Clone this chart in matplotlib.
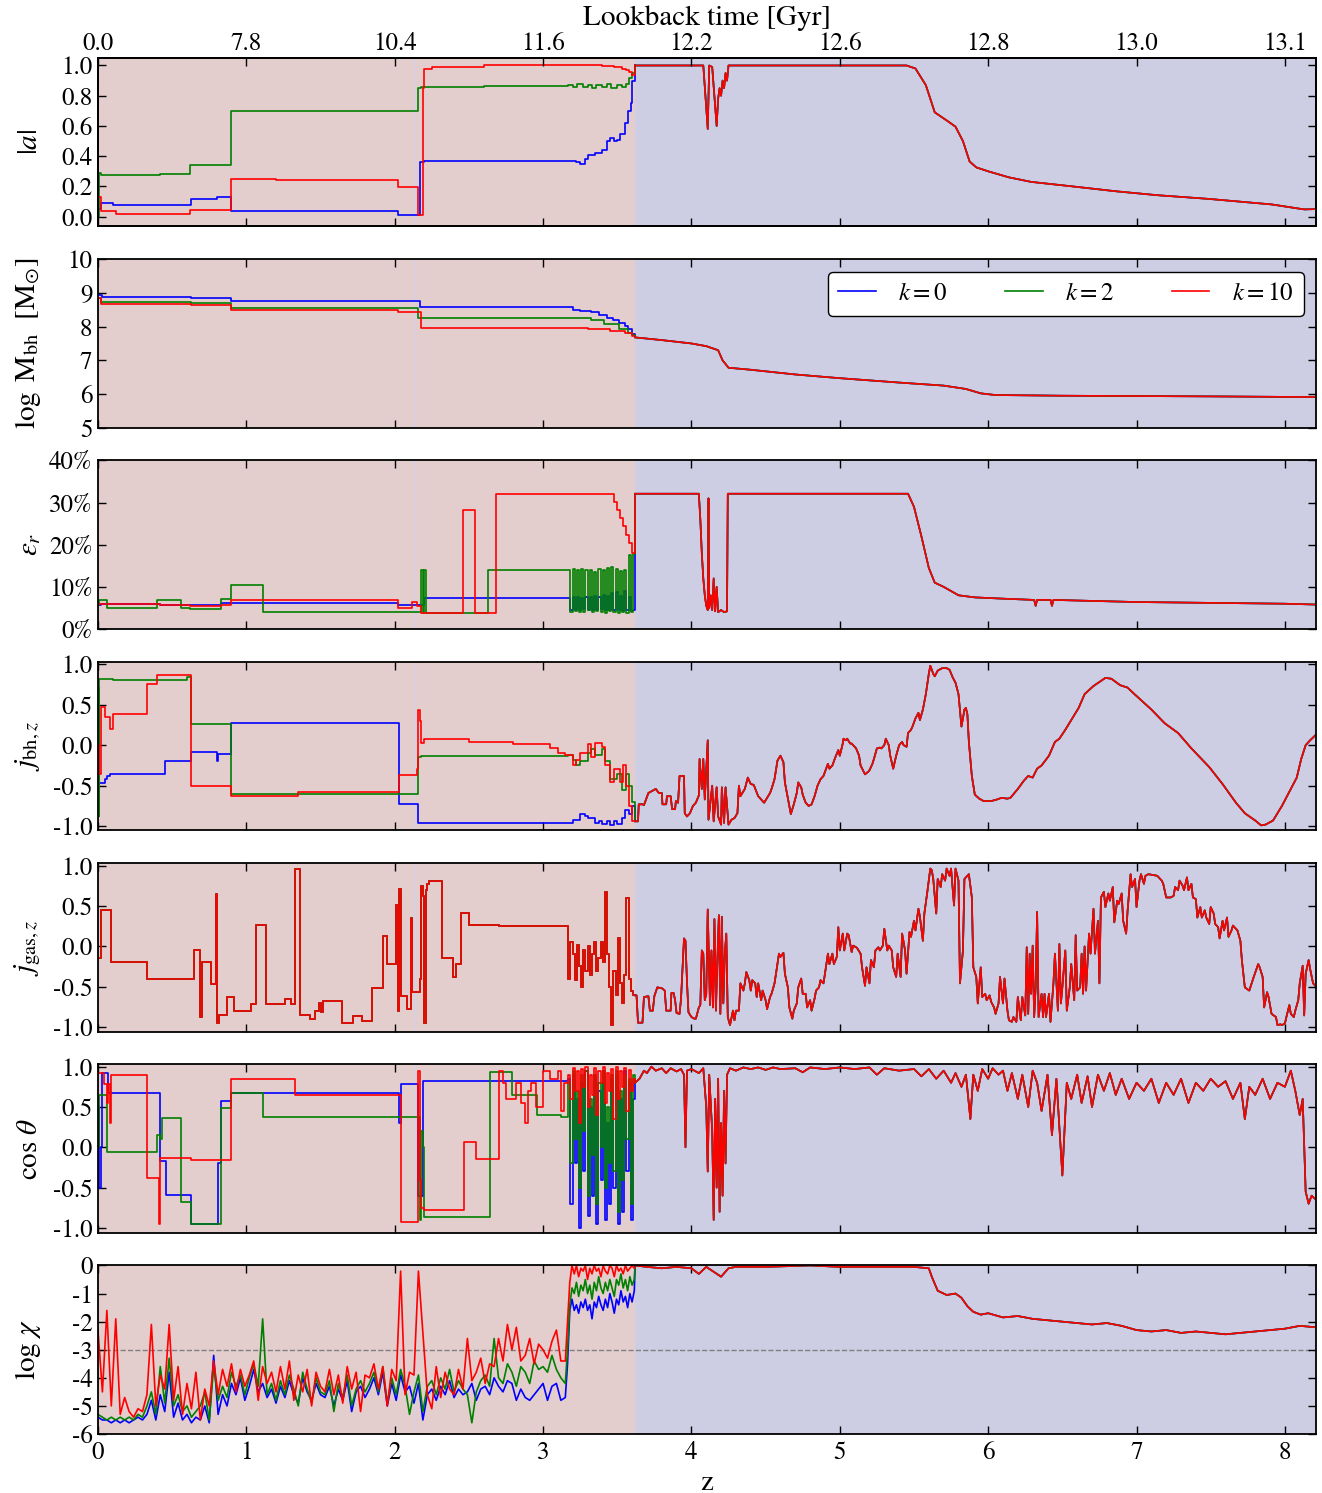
import numpy as np
import matplotlib.pyplot as plt
from matplotlib.ticker import FormatStrFormatter

plt.rcParams.update({
    'font.family': 'STIXGeneral',
    'mathtext.fontset': 'stix',
    'font.size': 18,
    'axes.unicode_minus': False,
    'axes.linewidth': 1.3,
    'xtick.direction': 'in',
    'ytick.direction': 'in',
    'xtick.top': True,
    'ytick.right': True,
    'xtick.major.size': 6,
    'ytick.major.size': 6,
    'xtick.major.width': 1.0,
    'ytick.major.width': 1.0,
    'xtick.major.pad': 5,
    'ytick.major.pad': 4,
})

# redshift where the three runs split, and the end of the axis
z_split = 3.62
z_max = 8.21
z_mark = 2.135

lookback = ['0.0', '7.8', '10.4', '11.6', '12.2', '12.6', '12.8', '13.0', '13.1']
labels = [r'$k=0$', r'$k=2$', r'$k=10$']

# ---- |a| ------------------------------------------------------------
a_blue = [(0, 0.05), (0.02, 0.09), (0.1, 0.08), (0.63, 0.12), (0.8, 0.13), (0.9, 0.035),
          (2.02, 0.01), (2.17, 0.36), (2.2, 0.37), (3.17, 0.37), (3.22, 0.36), (3.25, 0.35),
          (3.28, 0.38), (3.3, 0.41), (3.35, 0.42), (3.4, 0.44), (3.43, 0.50), (3.45, 0.52),
          (3.48, 0.50), (3.5, 0.51), (3.52, 0.55), (3.55, 0.62), (3.57, 0.70), (3.59, 0.75),
          (3.6, 0.90)]
a_green = [(0, 0.0), (0.01, 0.29), (0.02, 0.275), (0.42, 0.28), (0.62, 0.34), (0.9, 0.70),
           (2.16, 0.85), (2.18, 0.86), (2.6, 0.865), (3.17, 0.87), (3.2, 0.86), (3.23, 0.875),
           (3.27, 0.86), (3.3, 0.87), (3.33, 0.85), (3.36, 0.87), (3.4, 0.86), (3.43, 0.88),
           (3.46, 0.85), (3.5, 0.87), (3.53, 0.86), (3.56, 0.88), (3.58, 0.92), (3.6, 0.95)]
a_red = [(0, 0.13), (0.02, 0.04), (0.05, 0.035), (0.12, 0.02), (0.4, 0.015), (0.62, 0.045),
         (0.9, 0.25), (1.2, 0.245), (2.02, 0.195), (2.16, 0.01), (2.19, 0.85), (2.2, 0.98),
         (2.25, 0.99), (2.6, 1.0), (3.4, 0.995), (3.48, 0.99), (3.53, 0.98), (3.56, 0.97),
         (3.58, 0.96), (3.6, 0.94)]
a_hi = [(3.62, 1.0), (4.08, 1.0), (4.11, 0.58), (4.12, 1.0), (4.14, 0.99), (4.17, 0.60),
        (4.18, 0.78), (4.19, 0.85), (4.2, 0.80), (4.21, 0.90), (4.22, 0.85), (4.23, 0.95),
        (4.24, 0.90), (4.25, 1.0), (5.45, 1.0), (5.51, 0.98), (5.58, 0.87), (5.64, 0.69),
        (5.73, 0.63), (5.78, 0.595), (5.83, 0.50), (5.875, 0.365), (5.92, 0.326), (6.0, 0.30),
        (6.14, 0.26), (6.29, 0.23), (6.57, 0.20), (6.86, 0.168), (7.14, 0.142), (7.48, 0.118),
        (7.91, 0.081), (8.13, 0.048), (8.21, 0.05)]

# ---- log M_bh ----------------------------------------------------------
m_blue = [(0, 8.95), (0.03, 8.87), (0.63, 8.85), (0.9, 8.75), (2.17, 8.57), (3.17, 8.57),
          (3.2, 8.50), (3.25, 8.47), (3.32, 8.42), (3.38, 8.35), (3.43, 8.27), (3.47, 8.20),
          (3.51, 8.12), (3.55, 8.02), (3.57, 7.92), (3.6, 7.77)]
m_green = [(0, 8.85), (0.02, 8.73), (0.63, 8.70), (0.9, 8.55), (2.16, 8.27), (3.2, 8.25),
           (3.32, 8.19), (3.41, 8.07), (3.51, 7.92), (3.57, 7.82), (3.6, 7.74)]
m_red = [(0, 8.85), (0.02, 8.68), (0.63, 8.63), (0.9, 8.48), (2.02, 8.42), (2.18, 7.97),
         (3.17, 7.95), (3.3, 7.92), (3.45, 7.87), (3.55, 7.80), (3.6, 7.72)]
m_hi = [(3.62, 7.68), (3.8, 7.60), (4.0, 7.50), (4.1, 7.42), (4.18, 7.30), (4.21, 7.00),
        (4.25, 6.78), (4.4, 6.72), (4.7, 6.58), (5.0, 6.47), (5.4, 6.34), (5.7, 6.25),
        (5.85, 6.15), (5.95, 6.02), (6.05, 5.97), (6.5, 5.95), (7.5, 5.93), (8.21, 5.91)]

# ---- radiative efficiency [%] ----------------------------------------------
e_blue = [(0, 5.6), (0.02, 6.0), (0.42, 5.6), (0.83, 6.1), (2.02, 5.6), (2.2, 7.3)]
e_green = [(0, 5.6), (0.01, 6.8), (0.06, 5.0), (0.40, 6.8), (0.56, 5.0), (0.62, 4.8),
           (0.83, 7.2), (0.90, 10.4), (1.11, 4.0), (2.18, 14.0), (2.19, 3.8), (2.20, 14.0),
           (2.21, 3.8), (2.63, 14.0)]
e_red = [(0, 6.0), (0.42, 5.6), (0.62, 5.4), (0.83, 5.6), (0.90, 6.8), (2.02, 5.0),
         (2.12, 6.4), (2.15, 5.5), (2.18, 3.7), (2.46, 28.2), (2.54, 3.7), (2.68, 32.1),
         (3.46, 32.1), (3.48, 30.2), (3.50, 28.3), (3.52, 26.3), (3.54, 24.4), (3.56, 22.4),
         (3.58, 20.3), (3.60, 18.0)]
e_blue_late = [7.3, 4.5, 7.5, 4.6, 7.6, 4.5, 7.4, 4.8, 7.7, 4.5,
               7.5, 4.6, 7.8, 4.5, 7.6, 4.7, 8.0, 4.5, 7.8, 4.6,
               8.5, 4.4, 8.8, 4.5, 7.9, 4.3, 8.9, 4.4, 7.5, 4.2, 4.5]
e_green_late = [14.0, 4.0, 14.2, 4.3, 14.0, 4.1, 14.3, 4.0, 13.9, 4.4,
                14.1, 4.0, 13.5, 4.2, 14.2, 4.1, 14.0, 3.9, 14.5, 4.2,
                14.8, 4.0, 14.3, 3.8, 13.8, 4.1, 14.0, 3.8, 17.5, 4.0, 17.8]
e_hi = [(3.62, 32.1), (4.05, 32.1), (4.06, 26.0), (4.07, 18.0), (4.08, 12.0), (4.09, 8.0),
        (4.10, 5.5), (4.11, 4.5), (4.115, 31.0), (4.12, 5.0), (4.13, 8.0), (4.14, 4.5),
        (4.15, 12.0), (4.16, 4.2), (4.17, 10.0), (4.18, 4.0), (4.20, 4.5), (4.22, 4.0),
        (4.24, 4.2), (4.245, 32.1), (5.46, 32.1), (5.5, 29.0), (5.55, 22.0), (5.6, 14.5),
        (5.64, 11.0), (5.7, 10.0), (5.8, 8.0), (5.91, 7.5), (6.1, 7.2), (6.31, 6.9),
        (6.32, 5.5), (6.33, 6.9), (6.42, 6.9), (6.43, 5.5), (6.44, 6.9), (7.0, 6.4),
        (7.5, 6.2), (8.0, 6.0), (8.21, 5.8)]

# ---- j_bh,z ------------------------------------------------------------
jb_blue = [(0, -0.35), (0.01, -0.47), (0.05, -0.42), (0.06, -0.38), (0.08, -0.35),
           (0.45, -0.19), (0.63, -0.09), (0.80, -0.20), (0.81, -0.11), (0.90, 0.27),
           (2.03, -0.72), (2.16, -0.96), (3.2, -0.92), (3.25, -0.85), (3.28, -0.88),
           (3.3, -0.90), (3.35, -0.96), (3.38, -0.93), (3.4, -0.97), (3.43, -0.94),
           (3.45, -0.98), (3.48, -0.93), (3.5, -0.97), (3.53, -0.90), (3.55, -0.80),
           (3.58, -0.85), (3.6, -0.75)]
jb_green = [(0, 0.7), (0.005, -0.88), (0.01, 0.82), (0.1, 0.80), (0.4, 0.81), (0.6, 0.84),
            (0.63, 0.26), (0.9, -0.60), (2.16, -0.14), (2.18, -0.13), (3.17, -0.12),
            (3.2, -0.18), (3.22, -0.25), (3.25, -0.20), (3.3, -0.10), (3.32, -0.05),
            (3.35, -0.12), (3.4, -0.05), (3.42, -0.20), (3.45, -0.42), (3.5, -0.35),
            (3.53, -0.55), (3.56, -0.35), (3.58, -0.50), (3.6, -0.70)]
jb_red = [(0, 0.0), (0.01, -0.35), (0.02, 0.47), (0.05, 0.35), (0.08, 0.20), (0.1, 0.38),
          (0.33, 0.75), (0.4, 0.86), (0.63, -0.50), (0.9, -0.63), (1.35, -0.58), (2.03, -0.37),
          (2.15, -0.30), (2.16, 0.44), (2.17, 0.30), (2.18, 0.03), (2.2, 0.07), (2.5, 0.04),
          (2.8, 0.01), (3.05, -0.03), (3.1, -0.10), (3.15, -0.12), (3.2, -0.25), (3.22, -0.18),
          (3.25, -0.10), (3.3, 0.02), (3.32, -0.15), (3.35, 0.03), (3.4, -0.02), (3.42, -0.25),
          (3.45, -0.45), (3.48, -0.30), (3.52, -0.45), (3.54, -0.25), (3.56, -0.50),
          (3.58, -0.75), (3.6, -0.94)]
jb_hi = [(3.62, -0.94), (3.64, -0.94), (3.645, -0.73), (3.67, -0.73), (3.68, -0.74),
         (3.71, -0.59), (3.76, -0.54), (3.78, -0.59), (3.80, -0.59), (3.805, -0.73),
         (3.83, -0.73), (3.835, -0.63), (3.86, -0.63), (3.87, -0.79), (3.89, -0.79),
         (3.895, -0.69), (3.91, -0.71), (3.92, -0.38), (3.95, -0.38), (3.955, -0.84),
         (3.97, -0.88), (3.99, -0.84), (4.01, -0.75), (4.03, -0.71), (4.05, -0.62),
         (4.055, -0.17), (4.07, -0.54), (4.08, -0.17), (4.09, -0.67), (4.11, 0.06),
         (4.115, -0.92), (4.14, -0.50), (4.15, -0.94), (4.17, -0.52), (4.18, -0.88),
         (4.20, -0.98), (4.205, -0.52), (4.22, -0.96), (4.23, -0.52), (4.25, -0.98),
         (4.27, -0.92), (4.29, -0.90), (4.31, -0.84), (4.32, -0.50), (4.33, -0.63),
         (4.36, -0.54), (4.38, -0.40), (4.40, -0.48), (4.42, -0.49), (4.45, -0.63),
         (4.47, -0.67), (4.49, -0.71), (4.51, -0.65), (4.53, -0.59), (4.54, -0.54),
         (4.56, -0.42), (4.58, -0.19), (4.60, -0.13), (4.62, -0.21), (4.63, -0.46),
         (4.66, -0.75), (4.67, -0.85), (4.69, -0.73), (4.71, -0.59), (4.72, -0.46),
         (4.74, -0.52), (4.75, -0.61), (4.77, -0.71), (4.79, -0.75), (4.81, -0.73),
         (4.83, -0.63), (4.85, -0.50), (4.87, -0.42), (4.89, -0.38), (4.90, -0.33),
         (4.92, -0.23), (4.93, -0.29), (4.95, -0.25), (4.97, -0.15), (4.99, -0.06),
         (5.00, -0.13), (5.02, 0.02), (5.025, 0.08), (5.04, 0.06), (5.05, 0.08),
         (5.07, 0.02), (5.08, 0.02), (5.11, -0.04), (5.13, -0.13), (5.14, -0.25),
         (5.17, -0.36), (5.19, -0.33), (5.20, -0.31), (5.22, -0.23), (5.23, -0.17),
         (5.25, -0.04), (5.27, -0.03), (5.28, -0.04), (5.30, 0.0), (5.31, 0.08),
         (5.33, 0.0), (5.34, -0.13), (5.36, -0.29), (5.38, -0.13), (5.40, 0.0),
         (5.42, 0.04), (5.43, 0.0), (5.45, -0.02), (5.46, 0.15), (5.48, 0.19),
         (5.49, 0.23), (5.51, 0.33), (5.53, 0.40), (5.54, 0.31), (5.56, 0.44),
         (5.58, 0.63), (5.60, 0.88), (5.61, 0.98), (5.63, 0.88), (5.64, 0.85),
         (5.66, 0.92), (5.69, 0.95), (5.72, 0.95), (5.74, 0.93), (5.76, 0.84),
         (5.78, 0.77), (5.80, 0.63), (5.82, 0.23), (5.83, 0.33), (5.84, 0.44),
         (5.85, 0.46), (5.86, 0.38), (5.87, 0.04), (5.89, -0.38), (5.91, -0.61),
         (5.94, -0.66), (5.97, -0.69), (6.02, -0.69), (6.06, -0.67), (6.09, -0.65),
         (6.13, -0.66), (6.15, -0.65), (6.20, -0.54), (6.24, -0.44), (6.27, -0.38),
         (6.30, -0.40), (6.33, -0.29), (6.36, -0.25), (6.41, -0.13), (6.45, 0.04),
         (6.48, 0.08), (6.52, 0.19), (6.56, 0.31), (6.61, 0.46), (6.65, 0.63),
         (6.71, 0.73), (6.79, 0.83), (6.83, 0.82), (6.89, 0.74), (6.94, 0.71),
         (6.98, 0.64), (7.04, 0.54), (7.10, 0.44), (7.19, 0.27), (7.28, 0.15),
         (7.37, -0.04), (7.49, -0.27), (7.58, -0.48), (7.67, -0.71), (7.73, -0.84),
         (7.80, -0.93), (7.84, -0.99), (7.87, -0.98), (7.92, -0.93), (7.98, -0.75),
         (8.04, -0.54), (8.08, -0.40), (8.11, -0.17), (8.14, 0.0), (8.17, 0.06),
         (8.21, 0.13)]

# ---- j_gas,z (same gas for all runs) ---------------------------------------
jg_low = [(0, -0.15), (0.02, 0.45), (0.09, -0.20), (0.33, -0.40), (0.645, -0.05),
          (0.69, -0.88), (0.70, -0.20), (0.76, -0.47), (0.795, 0.65), (0.80, -0.96),
          (0.815, -0.85), (0.87, -0.63), (0.915, -0.80), (1.03, -0.72), (1.065, 0.27),
          (1.13, -0.72), (1.26, -0.66), (1.30, -0.72), (1.33, 0.97), (1.36, -0.85),
          (1.43, -0.90), (1.46, -0.80), (1.49, -0.70), (1.50, -0.82), (1.52, -0.68),
          (1.645, -0.95), (1.72, -0.87), (1.78, -0.93), (1.85, -0.52), (1.92, 0.13),
          (1.945, -0.22), (2.01, 0.52), (2.02, -0.80), (2.03, 0.72), (2.04, -0.62),
          (2.08, -0.78), (2.11, 0.35), (2.12, -0.57), (2.17, -0.40), (2.18, 0.75),
          (2.19, 0.63), (2.20, -0.95), (2.21, 0.70), (2.22, 0.78), (2.23, 0.82),
          (2.32, -0.15), (2.39, -0.38), (2.41, -0.22), (2.45, 0.42), (2.50, 0.27),
          (2.70, 0.25)]
jg_late = [-0.40, 0.05, -0.10, -0.42, 0.02, -0.25, -0.50, -0.05, -0.30, 0.00,
           -0.35, -0.10, 0.05, -0.30, -0.15, 0.05, -0.20, 0.68, -0.10, -0.50,
           -0.98, -0.30, -0.60, 0.10, -0.45, -0.70, -0.35, 0.60, -0.40, -0.55, -0.60]
jg_hi = [(3.62, -0.61), (3.63, -0.61), (3.64, -0.95), (3.67, -0.95), (3.68, -0.63),
         (3.71, -0.62), (3.72, -0.80), (3.74, -0.80), (3.75, -0.62), (3.77, -0.51),
         (3.80, -0.52), (3.82, -0.55), (3.83, -0.80), (3.86, -0.80), (3.865, -0.58),
         (3.88, -0.58), (3.89, -0.67), (3.90, -0.83), (3.92, -0.84), (3.93, -0.65),
         (3.95, 0.10), (3.96, 0.07), (3.97, -0.44), (3.98, -0.82), (4.00, -0.88),
         (4.02, -0.90), (4.03, -0.90), (4.05, -0.76), (4.06, -0.73), (4.07, -0.05),
         (4.08, -0.09), (4.09, -0.67), (4.10, -0.59), (4.11, 0.46), (4.125, -0.73),
         (4.135, -0.05), (4.145, -0.76), (4.155, 0.34), (4.165, -0.80), (4.175, -0.17),
         (4.185, 0.39), (4.195, -0.84), (4.205, 0.37), (4.215, -0.71), (4.225, -0.09),
         (4.235, 0.16), (4.245, -0.88), (4.26, -0.98), (4.28, -0.80), (4.29, -0.92),
         (4.30, -0.80), (4.32, -0.80), (4.33, -0.46), (4.35, -0.55), (4.36, -0.46),
         (4.37, -0.32), (4.39, -0.42), (4.40, -0.55), (4.41, -0.42), (4.43, -0.46),
         (4.44, -0.63), (4.45, -0.46), (4.47, -0.67), (4.48, -0.55), (4.50, -0.67),
         (4.51, -0.78), (4.53, -0.63), (4.54, -0.59), (4.56, -0.46), (4.57, -0.34),
         (4.59, -0.09), (4.60, -0.13), (4.62, -0.08), (4.63, -0.34), (4.65, -0.51),
         (4.66, -0.76), (4.68, -0.90), (4.69, -0.80), (4.71, -0.71), (4.72, -0.51),
         (4.74, -0.40), (4.75, -0.59), (4.77, -0.59), (4.78, -0.76), (4.80, -0.67),
         (4.81, -0.80), (4.83, -0.65), (4.84, -0.55), (4.86, -0.51), (4.87, -0.42),
         (4.89, -0.46), (4.90, -0.34), (4.92, -0.09), (4.93, -0.22), (4.95, -0.09),
         (4.96, -0.22), (4.98, -0.13), (4.99, 0.24), (5.00, -0.05), (5.02, 0.16),
         (5.03, -0.05), (5.05, 0.16), (5.06, 0.14), (5.08, -0.07), (5.09, 0.01),
         (5.11, -0.01), (5.12, -0.03), (5.14, -0.09), (5.15, -0.26), (5.17, -0.49),
         (5.18, -0.26), (5.20, -0.46), (5.21, -0.17), (5.23, -0.26), (5.24, -0.05),
         (5.26, -0.01), (5.27, -0.05), (5.29, 0.01), (5.30, 0.22), (5.32, -0.05),
         (5.33, 0.01), (5.35, -0.05), (5.36, -0.26), (5.38, -0.38), (5.39, -0.09),
         (5.41, -0.38), (5.42, 0.16), (5.44, -0.05), (5.45, -0.34), (5.47, 0.18),
         (5.48, 0.12), (5.50, 0.32), (5.51, 0.20), (5.53, 0.47), (5.54, 0.37),
         (5.56, 0.07), (5.57, 0.41), (5.59, 0.68), (5.61, 0.97), (5.62, 0.95),
         (5.63, 0.84), (5.65, 0.41), (5.66, 0.84), (5.68, 0.74), (5.69, 0.90),
         (5.71, 0.82), (5.72, 0.97), (5.74, 0.88), (5.75, 0.97), (5.77, 0.51),
         (5.78, 0.97), (5.80, 0.82), (5.81, -0.46), (5.83, -0.05), (5.84, 0.84),
         (5.86, 0.88), (5.87, 0.90), (5.89, 0.61), (5.90, -0.26), (5.92, -0.38),
         (5.93, -0.71), (5.95, -0.26), (5.96, -0.63), (5.98, -0.59), (5.99, -0.67),
         (6.01, -0.61), (6.02, -0.69), (6.04, -0.76), (6.05, -0.84), (6.07, -0.71),
         (6.08, -0.38), (6.10, -0.71), (6.11, -0.40), (6.13, -0.80), (6.14, -0.92),
         (6.16, -0.94), (6.17, -0.88), (6.19, -0.94), (6.20, -0.63), (6.22, -0.92),
         (6.23, -0.63), (6.25, -0.86), (6.26, -0.01), (6.27, -0.84), (6.28, -0.09),
         (6.29, -0.59), (6.30, 0.01), (6.31, -0.88), (6.32, -0.51), (6.33, 0.43),
         (6.34, -0.88), (6.36, -0.59), (6.37, -0.88), (6.38, -0.59), (6.39, -0.88),
         (6.41, -0.59), (6.42, -0.94), (6.44, -0.46), (6.45, -0.09), (6.47, -0.80),
         (6.48, 0.03), (6.49, -0.71), (6.50, -0.51), (6.52, -0.05), (6.53, -0.80),
         (6.55, -0.51), (6.56, -0.22), (6.58, -0.67), (6.59, 0.14), (6.60, -0.55),
         (6.62, -0.51), (6.63, -0.09), (6.64, -0.59), (6.65, 0.00), (6.66, -0.55),
         (6.68, 0.16), (6.69, -0.09), (6.71, 0.47), (6.72, -0.09), (6.74, 0.32),
         (6.75, -0.46), (6.76, 0.61), (6.78, 0.68), (6.79, 0.49), (6.81, 0.66),
         (6.82, 0.57), (6.84, 0.74), (6.85, 0.30), (6.87, 0.57), (6.88, 0.53),
         (6.90, 0.66), (6.91, 0.32), (6.93, 0.16), (6.94, 0.45), (6.96, 0.90),
         (6.97, 0.74), (6.99, 0.84), (7.00, 0.49), (7.02, 0.82), (7.03, 0.90),
         (7.05, 0.78), (7.06, 0.88), (7.08, 0.90), (7.11, 0.89), (7.14, 0.88),
         (7.17, 0.82), (7.18, 0.78), (7.20, 0.61), (7.23, 0.61), (7.25, 0.63),
         (7.26, 0.74), (7.28, 0.70), (7.29, 0.82), (7.31, 0.76), (7.32, 0.70),
         (7.34, 0.86), (7.35, 0.70), (7.37, 0.78), (7.38, 0.61), (7.40, 0.59),
         (7.41, 0.36), (7.43, 0.49), (7.44, 0.36), (7.46, 0.45), (7.47, 0.36),
         (7.49, 0.28), (7.50, 0.49), (7.52, 0.41), (7.53, 0.28), (7.55, 0.24),
         (7.56, 0.10), (7.58, 0.32), (7.59, 0.20), (7.61, 0.36), (7.62, 0.12),
         (7.64, 0.20), (7.65, 0.26), (7.67, 0.22), (7.68, 0.20), (7.70, 0.07),
         (7.71, -0.17), (7.73, -0.51), (7.76, -0.55), (7.79, -0.38), (7.82, -0.22),
         (7.83, -0.26), (7.85, -0.38), (7.86, -0.76), (7.88, -0.57), (7.89, -0.63),
         (7.91, -0.84), (7.94, -0.88), (7.95, -0.98), (7.97, -0.97), (7.98, -0.98),
         (8.00, -0.96), (8.01, -0.88), (8.03, -0.73), (8.04, -0.84), (8.06, -0.88),
         (8.07, -0.80), (8.09, -0.67), (8.10, -0.46), (8.12, -0.24), (8.13, -0.86),
         (8.14, -0.34), (8.16, -0.17), (8.17, -0.28), (8.19, -0.46), (8.21, -0.50)]

# ---- cos(theta) --------------------------------------------------------
c_blue = [(0, 0.5), (0.01, -0.5), (0.02, 0.0), (0.03, 0.92), (0.06, 0.92), (0.07, 0.67),
          (0.42, -0.17), (0.46, -0.59), (0.63, -0.95), (0.81, -0.2), (0.83, 0.57),
          (0.90, 0.67), (2.03, 0.30), (2.04, 0.79), (2.16, -0.6), (2.19, 0.82)]
c_green = [(0, 0.0), (0.01, 0.65), (0.06, -0.06), (0.40, 0.15), (0.42, 0.10), (0.43, 0.36),
           (0.56, -0.68), (0.63, -0.95), (0.83, 0.49), (0.90, 0.67), (1.11, 0.38),
           (2.17, -0.90), (2.18, 0.20), (2.19, 0.0), (2.20, -0.87), (2.64, 0.93),
           (2.79, 0.65), (2.96, 0.40), (3.12, 0.37)]
c_red = [(0, 0.92), (0.02, 0.92), (0.04, 0.78), (0.06, 0.55), (0.07, 0.78), (0.08, 0.30),
         (0.09, 0.90), (0.33, -0.38), (0.41, -0.95), (0.42, -0.13), (0.63, -0.16),
         (0.90, 0.85), (1.33, 0.65), (2.04, -0.93), (2.16, 0.95), (2.17, -0.40),
         (2.18, -0.75), (2.20, -0.78), (2.47, 0.07), (2.55, -0.15), (2.70, 0.95),
         (2.73, 0.80), (2.75, 0.60), (2.82, 0.80), (2.85, 0.55), (2.88, 0.30),
         (2.90, 0.70), (2.92, 0.80), (2.95, 0.50), (3.00, 0.95), (3.05, 0.85),
         (3.10, 0.95), (3.12, 0.45), (3.14, 0.80)]
c_blue_late = [0.85, -0.7, 0.9, -0.2, 0.6, -1.0, 0.8, -0.3, 0.95, -0.85,
               0.5, -0.6, 0.9, -0.95, 0.7, -0.4, 0.95, -0.9, 0.3, -0.7,
               0.85, -0.5, 0.9, -0.95, 0.6, -0.8, 0.95, -0.3, 0.8, -0.9, 0.6]
c_green_late = [0.8, -0.2, 0.95, 0.1, 0.7, -0.5, 0.9, 0.2, 0.95, -0.6,
                0.6, -0.1, 0.9, -0.7, 0.8, 0.0, 0.95, -0.5, 0.5, -0.2,
                0.9, -0.3, 0.95, -0.8, 0.7, -0.4, 0.9, 0.1, 0.85, -0.7, 0.9]
c_red_late = [0.9, 0.6, 0.98, 0.7, 0.95, 0.3, 0.97, 0.75, 0.99, 0.5,
              0.9, 0.65, 0.98, 0.4, 0.95, 0.8, 0.99, 0.55, 0.92, 0.7,
              0.97, 0.35, 0.99, 0.6, 0.95, 0.75, 0.98, 0.45, 0.96, 0.7, 0.85]
c_hi = [(3.62, 0.80), (3.65, 0.85), (3.68, 0.95), (3.70, 0.92), (3.73, 1.0), (3.76, 0.95),
        (3.80, 0.98), (3.83, 0.92), (3.86, 0.98), (3.90, 0.94), (3.93, 0.97), (3.95, 0.90),
        (3.96, 0.0), (3.97, 0.95), (4.00, 0.97), (4.05, 0.92), (4.08, 0.98), (4.10, 0.50),
        (4.11, -0.30), (4.12, 0.90), (4.14, 0.20), (4.15, -0.90), (4.16, 0.60), (4.17, -0.50),
        (4.18, 0.85), (4.19, -0.80), (4.20, 0.30), (4.21, -0.60), (4.22, 0.70), (4.23, -0.20),
        (4.24, 0.90), (4.26, 0.98), (4.30, 0.95), (4.35, 0.99), (4.40, 0.97), (4.45, 0.99),
        (4.50, 0.96), (4.55, 0.99), (4.60, 0.97), (4.70, 0.98), (4.75, 0.93), (4.80, 0.99),
        (4.90, 0.97), (5.00, 0.99), (5.10, 0.97), (5.20, 0.99), (5.25, 0.90), (5.30, 0.98),
        (5.40, 0.95), (5.50, 0.97), (5.55, 0.88), (5.60, 0.97), (5.65, 0.85), (5.70, 0.95),
        (5.75, 0.80), (5.78, 0.92), (5.82, 0.75), (5.85, 0.90), (5.88, 0.35), (5.90, 0.90),
        (5.93, 0.70), (5.96, 0.97), (6.00, 0.85), (6.03, 0.98), (6.07, 0.90), (6.10, 0.95),
        (6.13, 0.70), (6.16, 0.92), (6.20, 0.60), (6.23, 0.90), (6.27, 0.50), (6.30, 0.95),
        (6.33, 0.80), (6.36, 0.45), (6.40, 0.90), (6.43, 0.15), (6.46, 0.85), (6.50, -0.35),
        (6.53, 0.80), (6.56, 0.60), (6.60, 0.90), (6.63, 0.55), (6.67, 0.88), (6.70, 0.50),
        (6.74, 0.90), (6.78, 0.70), (6.82, 0.92), (6.86, 0.65), (6.90, 0.85), (6.95, 0.60),
        (7.00, 0.80), (7.05, 0.70), (7.10, 0.85), (7.15, 0.55), (7.20, 0.80), (7.25, 0.65),
        (7.30, 0.85), (7.35, 0.55), (7.40, 0.80), (7.45, 0.70), (7.50, 0.85), (7.55, 0.75),
        (7.60, 0.82), (7.65, 0.60), (7.70, 0.80), (7.73, 0.35), (7.76, 0.75), (7.80, 0.65),
        (7.85, 0.85), (7.90, 0.60), (7.95, 0.80), (8.00, 0.75), (8.04, 0.95), (8.07, 0.70),
        (8.10, 0.40), (8.12, 0.60), (8.14, -0.55), (8.16, -0.70), (8.18, -0.60), (8.21, -0.65)]

# ---- log chi -------------------------------------------------------------
chi_blue_early = [-5.4, -5.5, -5.5, -5.6, -5.5, -5.6, -5.5, -5.6, -5.5, -5.4, -5.5,
                  -5.3, -4.8, -5.5, -4.6, -5.2, -3.8, -5.4, -4.9, -5.5, -5.3,
                  -5.6, -5.4, -5.5, -5.0, -5.6, -3.2, -5.3, -4.6, -5.0, -4.2,
                  -4.6, -4.0, -4.8, -4.3, -3.7, -4.5, -4.2, -4.7, -4.4, -4.9,
                  -4.3, -4.7, -4.1, -4.6, -4.9, -4.0, -4.5, -4.8, -4.2, -4.6,
                  -4.7, -4.3, -5.0, -4.4, -4.8, -4.1, -5.2, -4.5, -4.3, -4.7,
                  -4.4, -4.0, -4.6, -3.8, -5.0, -4.2, -4.8, -3.9, -4.5, -4.3,
                  -4.9, -4.2, -5.5, -4.6, -4.4, -4.8, -4.3, -4.6, -4.1, -4.7,
                  -4.4, -4.6, -4.5, -4.2, -4.8, -4.4, -4.3, -4.6, -4.0, -4.3,
                  -4.5, -4.1, -4.2, -4.8, -4.4, -4.7, -4.8, -4.6, -4.4, -4.2,
                  -4.8, -4.3, -4.2, -4.8]
chi_green_early = [-5.3, -5.4, -5.5, -5.4, -5.5, -5.4, -5.5, -5.4, -5.5, -5.3, -5.4,
                   -5.0, -4.5, -5.3, -3.6, -4.9, -3.3, -5.0, -4.6, -5.2, -5.0,
                   -5.4, -5.2, -5.0, -4.5, -5.5, -3.6, -4.8, -4.3, -4.7, -3.8,
                   -4.3, -3.9, -4.6, -4.0, -3.5, -4.3, -1.9, -4.6, -4.2, -4.8,
                   -4.1, -4.6, -3.9, -4.4, -5.0, -3.8, -4.4, -4.9, -4.0, -4.5,
                   -4.6, -4.1, -5.2, -4.2, -4.7, -3.9, -5.0, -4.4, -4.1, -4.5,
                   -4.2, -3.8, -4.5, -3.6, -4.9, -4.0, -4.6, -3.7, -4.3, -5.3,
                   -4.5, -3.9, -5.2, -4.3, -4.1, -4.6, -4.0, -4.4, -3.7, -4.5,
                   -4.1, -4.4, -4.6, -5.6, -4.5, -4.1, -3.9, -4.3, -2.6, -4.0,
                   -4.2, -3.5, -3.8, -4.3, -3.6, -3.8, -4.2, -3.4, -3.7, -3.6,
                   -3.8, -3.2, -3.7, -4.0]
chi_red_early = [-2.3, -4.5, -1.6, -5.0, -1.9, -5.3, -4.7, -5.2, -5.4, -5.1, -5.2,
                 -4.6, -2.1, -5.0, -3.9, -4.4, -2.1, -4.8, -3.6, -5.3, -4.2,
                 -5.1, -3.8, -5.5, -4.4, -5.0, -3.4, -4.6, -3.7, -4.3, -3.5,
                 -4.5, -3.7, -4.3, -3.9, -3.4, -4.8, -3.6, -4.2, -3.8, -4.5,
                 -3.6, -4.4, -3.4, -4.8, -3.9, -4.5, -3.7, -5.0, -3.8, -4.3,
                 -4.5, -3.7, -4.6, -3.9, -4.9, -3.6, -4.4, -3.8, -5.2, -3.9,
                 -4.0, -3.5, -4.4, -3.6, -5.0, -3.7, -4.1, -0.2, -4.6, -3.8,
                 -3.9, -0.2, -2.4, -4.6, -5.1, -3.6, -4.7, -3.8, -4.4, -4.6,
                 -3.7, -4.4, -2.6, -4.1, -3.8, -3.3, -4.2, -3.5, -3.6, -2.6,
                 -3.4, -2.1, -3.0, -2.2, -3.4, -3.2, -2.6, -3.5, -2.8, -3.0,
                 -3.3, -2.7, -2.3, -3.4]
chi_blue_late = [-4.7, -3.5, -1.6, -1.2, -1.6, -1.4, -1.7, -1.3, -1.5, -1.2,
                 -1.6, -1.4, -1.9, -1.3, -1.5, -1.1, -1.4, -1.6, -1.2, -1.5,
                 -1.0, -1.3, -1.7, -1.2, -1.4, -0.9, -1.3, -1.1, -1.5, -1.0, -1.3, -0.9]
chi_green_late = [-4.2, -3.0, -1.4, -0.8, -1.0, -0.6, -1.1, -0.7, -0.9, -0.5,
                  -1.0, -0.7, -1.2, -0.6, -0.9, -0.4, -0.8, -1.0, -0.6, -0.9,
                  -0.5, -0.8, -1.1, -0.5, -0.7, -0.3, -0.8, -0.5, -0.9, -0.4, -0.7, -0.5]
chi_red_late = [-3.4, -2.0, -0.6, 0.0, -0.3, 0.0, -0.4, -0.1, -0.2, 0.0,
                -0.5, -0.1, -0.3, 0.0, -0.2, -0.1, -0.4, 0.0, -0.2, -0.3,
                0.0, -0.1, -0.4, 0.0, -0.2, -0.1, -0.3, 0.0, -0.2, -0.1, 0.0, -0.1]
chi_hi = [(3.62, 0.0), (3.7, -0.05), (3.8, -0.1), (3.9, -0.05), (4.0, -0.1), (4.05, -0.3),
          (4.1, -0.05), (4.2, -0.4), (4.25, -0.1), (4.3, -0.05), (4.5, -0.05), (4.8, 0.0),
          (5.0, -0.05), (5.5, -0.05), (5.6, -0.1), (5.62, -0.4), (5.66, -0.9), (5.72, -1.05),
          (5.78, -1.0), (5.82, -1.15), (5.86, -1.45), (5.9, -1.65), (5.95, -1.75), (6.0, -1.7),
          (6.1, -1.85), (6.2, -1.8), (6.3, -1.9), (6.4, -1.95), (6.5, -2.0), (6.6, -2.05),
          (6.7, -2.1), (6.8, -2.05), (6.9, -2.15), (7.0, -2.3), (7.1, -2.35), (7.2, -2.3),
          (7.3, -2.4), (7.4, -2.35), (7.5, -2.4), (7.6, -2.45), (7.7, -2.4), (7.8, -2.35),
          (7.9, -2.3), (8.0, -2.25), (8.1, -2.15), (8.21, -2.2)]

# sampling redshifts of the densely written stretches
z_late = np.linspace(3.17, 3.605, 31)
z_chi_early = np.linspace(0, 3.12, 105)
z_chi_late = np.linspace(3.15, 3.615, 32)


def join(steps, zs=None, vals=None):
    arr = np.asarray(steps, dtype=float).reshape(-1, 2)
    if zs is not None:
        arr = np.vstack([arr, np.column_stack([zs, vals])])
    return arr


colors = ['b', 'g', 'r']
pink = '#e4cdcd'
lavender = '#cdcde4'

fig, axes = plt.subplots(7, 1, figsize=(13.22, 14.93), dpi=100, sharex=True)
fig.subplots_adjust(left=0.0741, right=0.9955, top=0.9612, bottom=0.0395, hspace=0.194)


def draw(ax, lows, hi, style):
    hi = np.asarray(hi, dtype=float)
    lines = []
    for low, c, lab in zip(lows, colors, labels):
        z = np.append(low[:, 0], hi[0, 0])
        v = np.append(low[:, 1], hi[0, 1])
        ln, = ax.plot(z, v, color=c, lw=1.2, drawstyle=style, label=lab)
        lines.append(ln)
    for c in colors:
        ax.plot(hi[:, 0], hi[:, 1], color=c, lw=1.2)
    return lines


panels = [
    ([join(a_blue), join(a_green), join(a_red)], a_hi),
    ([join(m_blue), join(m_green), join(m_red)], m_hi),
    ([join(e_blue, z_late, e_blue_late), join(e_green, z_late, e_green_late), join(e_red)], e_hi),
    ([join(jb_blue), join(jb_green), join(jb_red)], jb_hi),
    ([join(jg_low, z_late, jg_late)] * 3, jg_hi),
    ([join(c_blue, z_late, c_blue_late), join(c_green, z_late, c_green_late),
      join(c_red, z_late, c_red_late)], c_hi),
    ([join(np.column_stack([z_chi_early, chi_blue_early]), z_chi_late, chi_blue_late),
      join(np.column_stack([z_chi_early, chi_green_early]), z_chi_late, chi_green_late),
      join(np.column_stack([z_chi_early, chi_red_early]), z_chi_late, chi_red_late)], chi_hi),
]
styles = ['steps-post'] * 6 + ['default']

ylabels = [r'$|a|$',
           r'$\log\ \mathrm{M}_{\mathrm{bh}}\ \ [\mathrm{M}_{\odot}]$',
           r'$\varepsilon_r$',
           r'$j_{\mathrm{bh},z}$',
           r'$j_{\mathrm{gas},z}$',
           r'$\cos\,\theta$',
           r'$\log\,\chi$']
ylims = [(-0.065, 1.05), (5, 10), (0, 40), (-1.05, 1.03), (-1.06, 1.04), (-1.06, 1.03), (-6, 0)]
yticks = [np.arange(0, 1.01, 0.2), np.arange(5, 11), np.arange(0, 41, 10),
          np.arange(-1, 1.01, 0.5), np.arange(-1, 1.01, 0.5), np.arange(-1, 1.01, 0.5),
          np.arange(-6, 1)]
yfmts = ['%.1f', '%d', '%d%%', '%.1f', '%.1f', '%.1f', '%d']

handles = None
for i, (ax, (lows, hi)) in enumerate(zip(axes, panels)):
    ax.axvspan(0, z_split, color=pink, lw=0, zorder=0)
    ax.axvspan(z_split, z_max, color=lavender, lw=0, zorder=0)
    ax.axvline(z_mark, color='#d2d2ea', lw=1.0, zorder=0.5)
    lines = draw(ax, lows, hi, styles[i])
    if i == 1:
        handles = lines
    ax.set_xlim(0, z_max)
    ax.set_ylim(*ylims[i])
    ax.set_yticks(yticks[i])
    ax.yaxis.set_major_formatter(FormatStrFormatter(yfmts[i]))
    ax.set_ylabel(ylabels[i], fontsize=21)
    ax.set_xticks(range(9))

axes[6].axhline(-3, color='gray', ls='--', lw=1.0, zorder=1)
axes[6].set_xlabel('z', fontsize=21, labelpad=4)

axes[1].legend(handles, labels, loc='upper right', ncol=3, fontsize=18,
               handlelength=1.5, handletextpad=0.9, columnspacing=2.3,
               fancybox=True, framealpha=1, edgecolor='k', borderpad=0.4)

top = axes[0].twiny()
top.set_xlim(0, z_max)
top.set_xticks(range(9))
top.set_xticklabels(lookback)
top.tick_params(axis='x', pad=1.5)
top.set_xlabel('Lookback time [Gyr]', fontsize=21, labelpad=5)

fig.align_ylabels(axes)
fig.savefig('out.png', dpi=100)
